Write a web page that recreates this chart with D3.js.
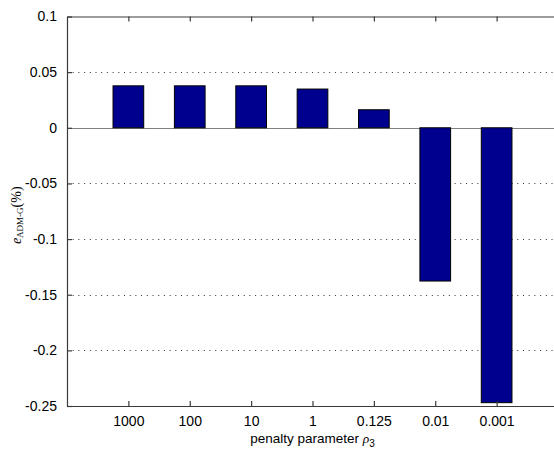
<!DOCTYPE html>
<html lang="en">
<head>
  <meta charset="UTF-8">
  <title>Penalty parameter bar chart</title>
  <script src="https://d3js.org/d3.v7.min.js"></script>
  <style>
    body {
      margin: 0;
      background: #ffffff;
      font-family: "Liberation Sans", Arial, sans-serif;
    }
    svg {
      display: block;
      overflow: hidden;
    }
    .tick text {
      font-size: 14px;
      fill: #000;
    }
  </style>
</head>
<body>

<div id="chart"></div>

<script>
  // Data
  const categories = ["1000", "100", "10", "1", "0.125", "0.01", "0.001"];
  const errorValues = [0.0377, 0.0377, 0.0377, 0.0348, 0.0162, -0.1377, -0.247];
  const yTicks = [0.1, 0.05, 0, -0.05, -0.1, -0.15, -0.2, -0.25];

  const width = 554, height = 449;
  // the plot box runs off the right side of the picture, like the original
  const margin = {left: 67, top: 16.5, right: 558, bottom: 406};

  const svg = d3.select("#chart")
                .append("svg")
                .attr("width", width)
                .attr("height", height);

  // x uses bar positions 1..7 with limits 0..8
  const x = d3.scaleLinear()
              .domain([0, categories.length + 1])
              .range([margin.left, margin.right]);

  const y = d3.scaleLinear()
              .domain([-0.25, 0.1])
              .range([margin.bottom, margin.top]);

  const barWidth = (x(1) - x(0)) * 0.5;
  const axisColor = "#3a3a3a";

  // Dotted grid lines (behind the bars)
  svg.append("g")
     .selectAll("line")
     .data(yTicks.filter(d => d !== 0 && d !== 0.1 && d !== -0.25))
     .join("line")
     .attr("x1", margin.left)
     .attr("x2", margin.right)
     .attr("y1", d => Math.round(y(d)) + 0.5)
     .attr("y2", d => Math.round(y(d)) + 0.5)
     .attr("stroke", "#333")
     .attr("stroke-width", 1)
     .attr("stroke-dasharray", "1,4.7");

  // Zero baseline
  svg.append("line")
     .attr("x1", margin.left)
     .attr("x2", margin.right)
     .attr("y1", Math.round(y(0)) + 0.5)
     .attr("y2", Math.round(y(0)) + 0.5)
     .attr("stroke", "#808080")
     .attr("stroke-width", 1.2);

  // Bars
  svg.append("g")
     .selectAll("rect")
     .data(errorValues)
     .join("rect")
     .attr("x", (d, i) => x(i + 1) - barWidth / 2)
     .attr("y", d => y(Math.max(0, d)))
     .attr("width", barWidth)
     .attr("height", d => Math.abs(y(d) - y(0)))
     .attr("fill", "#00008f")
     .attr("stroke", "#000")
     .attr("stroke-width", 1);

  // Axes (MATLAB style box with inward ticks)
  const xAxisBottom = d3.axisBottom(x)
                        .tickValues(d3.range(1, categories.length + 1))
                        .tickFormat(d => categories[d - 1])
                        .tickSizeInner(-5)
                        .tickSizeOuter(0)
                        .tickPadding(10);

  const xAxisTop = d3.axisTop(x)
                     .tickValues(d3.range(1, categories.length + 1))
                     .tickFormat("")
                     .tickSizeInner(-5)
                     .tickSizeOuter(0);

  // plain hyphen for negatives, as in the original
  const yAxisLeft = d3.axisLeft(y)
                      .tickValues(yTicks)
                      .tickFormat(d => String(+d.toFixed(2)))
                      .tickSizeInner(-5)
                      .tickSizeOuter(0)
                      .tickPadding(10);

  const gxb = svg.append("g")
                 .attr("transform", `translate(0,${margin.bottom})`)
                 .call(xAxisBottom);

  const gxt = svg.append("g")
                 .attr("transform", `translate(0,${margin.top})`)
                 .call(xAxisTop);

  const gy = svg.append("g")
                .attr("transform", `translate(${margin.left},0)`)
                .call(yAxisLeft);

  [gxb, gxt, gy].forEach(g => {
    g.selectAll("path, line").attr("stroke", axisColor).attr("stroke-width", 1.2);
    g.selectAll("text").attr("font-family", "Liberation Sans, Arial, sans-serif");
  });

  gxb.selectAll("text").attr("dy", "0.71em");

  // Axis labels
  const xLabel = svg.append("text")
                    .attr("x", (margin.left + margin.right) / 2)
                    .attr("y", 443)
                    .attr("text-anchor", "middle")
                    .attr("font-size", "13.5px")
                    .attr("font-family", "Liberation Sans, Arial, sans-serif");
  xLabel.append("tspan").text("penalty parameter ");
  xLabel.append("tspan").attr("font-style", "italic").attr("font-family", "Liberation Serif, serif").text("ρ");
  xLabel.append("tspan").attr("font-size", "10px").attr("dy", 4).text("3");

  const yLabel = svg.append("text")
                    .attr("transform", `translate(21,${(margin.top + margin.bottom) / 2 + 4}) rotate(-90)`)
                    .attr("text-anchor", "middle")
                    .attr("font-family", "Liberation Serif, serif")
                    .attr("font-size", "14px");
  yLabel.append("tspan").attr("font-style", "italic").text("e");
  yLabel.append("tspan").attr("font-size", "9px").attr("dy", 2).text("ADM-G");
  yLabel.append("tspan").attr("dy", -2).text("(%)");
</script>

</body>
</html>
